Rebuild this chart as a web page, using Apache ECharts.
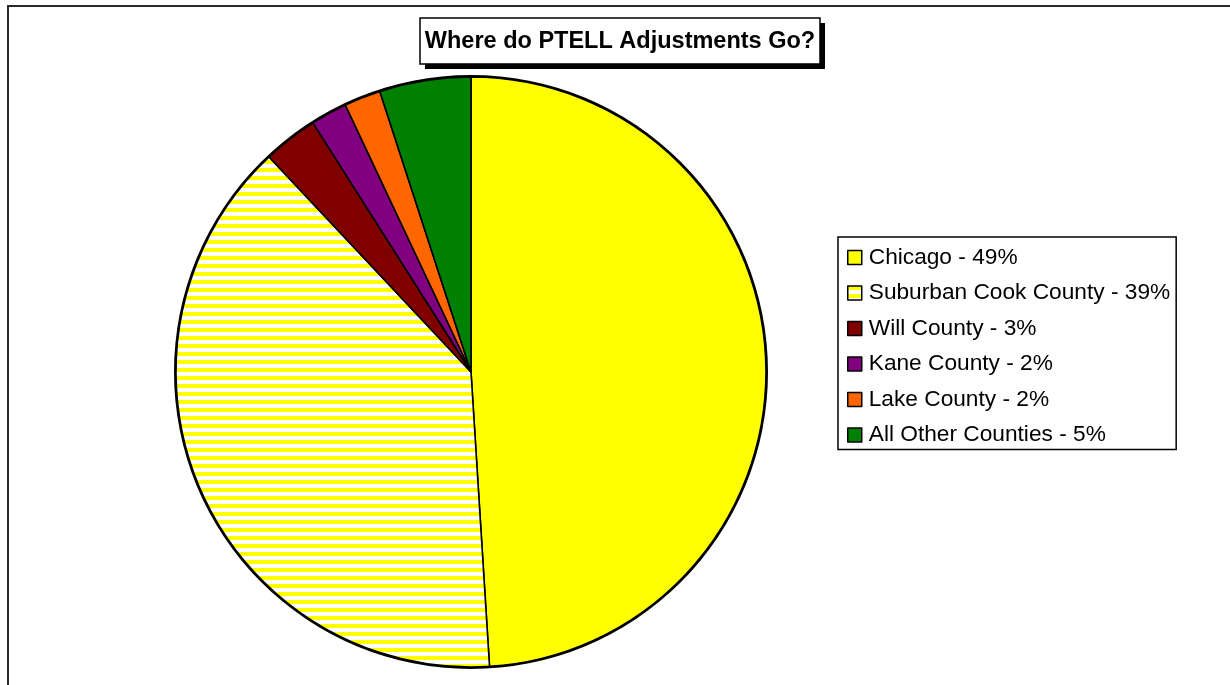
<!DOCTYPE html>
<html>
<head>
<meta charset="utf-8">
<script src="https://cdn.jsdelivr.net/npm/echarts@6/dist/echarts.min.js"></script>
<style>
  html, body { margin: 0; padding: 0; background: #fff; }
  #chart { width: 1230px; height: 685px; }
</style>
</head>
<body>
<div id="chart"></div>
<script>
// data
const categories = ['Chicago', 'Suburban Cook County', 'Will County', 'Kane County', 'Lake County', 'All Other Counties']
const shares = [49, 39, 3, 2, 2, 5]
const sliceColors = ['#ffff00', null, '#800000', '#800080', '#ff6600', '#008000']
const chartTitle = 'Where do PTELL Adjustments Go?'

// horizontal yellow/white hatch for suburban cook
const makeHatch = () => {
  const c = document.createElement('canvas')
  c.width = 8
  c.height = 8
  const ctx = c.getContext('2d')
  ctx.fillStyle = '#ffffff'
  ctx.fillRect(0, 0, 8, 8)
  ctx.fillStyle = '#ffff00'
  ctx.fillRect(0, 0, 8, 4)
  return c
}
const hatch = { image: makeHatch(), repeat: 'repeat' }

const chart = echarts.init(document.getElementById('chart'), null, { renderer: 'canvas' })

const option = {
  animation: false,
  backgroundColor: '#fff',
  graphic: [
    // outer frame, clipped on right and bottom
    {
      type: 'rect',
      shape: { x: 8, y: 6, width: 1300, height: 800 },
      style: { fill: 'none', stroke: '#2a2a2a', lineWidth: 2 },
      silent: true,
    },
    // title box shadow
    {
      type: 'rect',
      shape: { x: 425, y: 23, width: 400, height: 46 },
      style: { fill: '#000' },
      silent: true,
    },
    {
      type: 'rect',
      shape: { x: 420, y: 18, width: 400, height: 46 },
      style: { fill: '#fff', stroke: '#000', lineWidth: 1.5 },
      silent: true,
    },
    {
      type: 'text',
      x: 620,
      y: 42,
      style: {
        text: chartTitle,
        fill: '#000',
        font: 'bold 23.5px "Liberation Sans", Arial, sans-serif',
        align: 'center',
        verticalAlign: 'middle',
      },
      silent: true,
    },
  ],
  legend: {
    orient: 'vertical',
    left: 838,
    top: 237,
    padding: [9, 6, 3, 9],
    borderColor: '#000',
    borderWidth: 1.5,
    backgroundColor: '#fff',
    itemWidth: 14,
    itemHeight: 14,
    itemGap: 12.5,
    icon: 'rect',
    selectedMode: false,
    itemStyle: { borderColor: '#000', borderWidth: 1.5 },
    textStyle: {
      fontFamily: '"Liberation Sans", Arial, sans-serif',
      fontSize: 22.7,
      lineHeight: 22,
      color: '#000',
      padding: [0, 0, 0, 2],
    },
    formatter: (name) => name + ' - ' + shares[categories.indexOf(name)] + '%',
  },
  series: [
    {
      type: 'pie',
      center: [471, 372],
      radius: 295,
      startAngle: 90,
      clockwise: true,
      label: { show: false },
      labelLine: { show: false },
      emphasis: { disabled: true },
      itemStyle: { borderColor: '#000', borderWidth: 1.6 },
      data: categories.map((name, i) => ({
        name,
        value: shares[i],
        itemStyle: { color: sliceColors[i] || hatch },
      })),
    },
    // heavier outer rim
    {
      type: 'pie',
      center: [471, 372],
      radius: [295, 297],
      silent: true,
      label: { show: false },
      labelLine: { show: false },
      itemStyle: { color: '#000' },
      data: [{ value: 1, name: '' }],
      legendHoverLink: false,
    },
  ],
}

chart.setOption(option)
window.addEventListener('resize', () => chart.resize())
</script>
</body>
</html>
